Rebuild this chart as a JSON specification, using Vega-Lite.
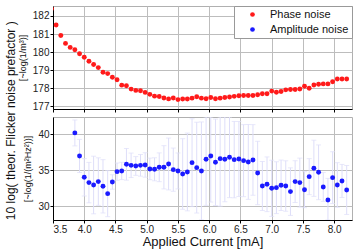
{
  "$schema": "https://vega.github.io/schema/vega-lite/v6.json",
  "padding": {"left": 4, "top": 5, "right": 4, "bottom": 3},
  "title": {"text": "10 log( theor. Flicker noise prefactor )", "orient": "left", "anchor": "middle", "fontSize": 12, "fontWeight": "normal", "font": "Liberation Sans", "color": "#111111", "offset": 0, "dx": 6},
  "datasets": {
    "phase": [
      {"current": 3.475, "value": 182.4, "series": "Phase noise"},
      {"current": 3.55, "value": 181.5, "series": "Phase noise"},
      {"current": 3.625, "value": 180.92, "series": "Phase noise"},
      {"current": 3.7, "value": 180.48, "series": "Phase noise"},
      {"current": 3.775, "value": 180.26, "series": "Phase noise"},
      {"current": 3.85, "value": 180.13, "series": "Phase noise"},
      {"current": 3.925, "value": 179.91, "series": "Phase noise"},
      {"current": 4.0, "value": 179.71, "series": "Phase noise"},
      {"current": 4.075, "value": 179.49, "series": "Phase noise"},
      {"current": 4.15, "value": 179.31, "series": "Phase noise"},
      {"current": 4.225, "value": 179.14, "series": "Phase noise"},
      {"current": 4.3, "value": 178.88, "series": "Phase noise"},
      {"current": 4.375, "value": 178.81, "series": "Phase noise"},
      {"current": 4.45, "value": 178.61, "series": "Phase noise"},
      {"current": 4.525, "value": 178.47, "series": "Phase noise"},
      {"current": 4.6, "value": 178.17, "series": "Phase noise"},
      {"current": 4.675, "value": 178.14, "series": "Phase noise"},
      {"current": 4.75, "value": 177.95, "series": "Phase noise"},
      {"current": 4.825, "value": 177.88, "series": "Phase noise"},
      {"current": 4.9, "value": 177.86, "series": "Phase noise"},
      {"current": 4.975, "value": 177.77, "series": "Phase noise"},
      {"current": 5.05, "value": 177.66, "series": "Phase noise"},
      {"current": 5.125, "value": 177.56, "series": "Phase noise"},
      {"current": 5.2, "value": 177.54, "series": "Phase noise"},
      {"current": 5.275, "value": 177.46, "series": "Phase noise"},
      {"current": 5.35, "value": 177.41, "series": "Phase noise"},
      {"current": 5.425, "value": 177.46, "series": "Phase noise"},
      {"current": 5.5, "value": 177.37, "series": "Phase noise"},
      {"current": 5.575, "value": 177.4, "series": "Phase noise"},
      {"current": 5.65, "value": 177.4, "series": "Phase noise"},
      {"current": 5.725, "value": 177.45, "series": "Phase noise"},
      {"current": 5.8, "value": 177.53, "series": "Phase noise"},
      {"current": 5.875, "value": 177.45, "series": "Phase noise"},
      {"current": 5.95, "value": 177.42, "series": "Phase noise"},
      {"current": 6.025, "value": 177.49, "series": "Phase noise"},
      {"current": 6.1, "value": 177.42, "series": "Phase noise"},
      {"current": 6.175, "value": 177.45, "series": "Phase noise"},
      {"current": 6.25, "value": 177.49, "series": "Phase noise"},
      {"current": 6.325, "value": 177.51, "series": "Phase noise"},
      {"current": 6.4, "value": 177.55, "series": "Phase noise"},
      {"current": 6.475, "value": 177.58, "series": "Phase noise"},
      {"current": 6.55, "value": 177.6, "series": "Phase noise"},
      {"current": 6.625, "value": 177.6, "series": "Phase noise"},
      {"current": 6.7, "value": 177.6, "series": "Phase noise"},
      {"current": 6.775, "value": 177.64, "series": "Phase noise"},
      {"current": 6.85, "value": 177.69, "series": "Phase noise"},
      {"current": 6.925, "value": 177.69, "series": "Phase noise"},
      {"current": 7.0, "value": 177.84, "series": "Phase noise"},
      {"current": 7.075, "value": 177.78, "series": "Phase noise"},
      {"current": 7.15, "value": 177.82, "series": "Phase noise"},
      {"current": 7.225, "value": 177.91, "series": "Phase noise"},
      {"current": 7.3, "value": 177.93, "series": "Phase noise"},
      {"current": 7.375, "value": 177.93, "series": "Phase noise"},
      {"current": 7.45, "value": 177.96, "series": "Phase noise"},
      {"current": 7.525, "value": 178.11, "series": "Phase noise"},
      {"current": 7.6, "value": 178.0, "series": "Phase noise"},
      {"current": 7.675, "value": 178.18, "series": "Phase noise"},
      {"current": 7.75, "value": 178.22, "series": "Phase noise"},
      {"current": 7.825, "value": 178.24, "series": "Phase noise"},
      {"current": 7.9, "value": 178.24, "series": "Phase noise"},
      {"current": 7.975, "value": 178.36, "series": "Phase noise"},
      {"current": 8.05, "value": 178.51, "series": "Phase noise"},
      {"current": 8.125, "value": 178.51, "series": "Phase noise"},
      {"current": 8.2, "value": 178.51, "series": "Phase noise"}
    ],
    "amp": [
      {"current": 3.85, "value": 40.19, "err": 1.8},
      {"current": 3.925, "value": 36.99, "err": 2.3},
      {"current": 4.0, "value": 34.03, "err": 2.6},
      {"current": 4.075, "value": 33.29, "err": 2.8},
      {"current": 4.15, "value": 32.96, "err": 4.0},
      {"current": 4.225, "value": 33.43, "err": 3.3},
      {"current": 4.3, "value": 32.78, "err": 3.7},
      {"current": 4.375, "value": 31.76, "err": 3.2},
      {"current": 4.45, "value": 33.38, "err": 1.0},
      {"current": 4.525, "value": 34.81, "err": 1.2},
      {"current": 4.6, "value": 34.91, "err": 1.2},
      {"current": 4.675, "value": 35.83, "err": 2.2},
      {"current": 4.75, "value": 35.69, "err": 1.7},
      {"current": 4.825, "value": 35.6, "err": 1.3},
      {"current": 4.9, "value": 35.69, "err": 1.5},
      {"current": 4.975, "value": 35.74, "err": 1.7},
      {"current": 5.05, "value": 35.19, "err": 1.5},
      {"current": 5.125, "value": 35.14, "err": 1.6},
      {"current": 5.2, "value": 35.42, "err": 2.0},
      {"current": 5.275, "value": 35.42, "err": 3.0},
      {"current": 5.35, "value": 35.88, "err": 3.6},
      {"current": 5.425, "value": 35.09, "err": 3.0},
      {"current": 5.5, "value": 34.91, "err": 2.5},
      {"current": 5.575, "value": 34.49, "err": 4.9},
      {"current": 5.65, "value": 34.77, "err": 5.4},
      {"current": 5.725, "value": 36.06, "err": 6.1},
      {"current": 5.8, "value": 35.37, "err": 6.3},
      {"current": 5.875, "value": 34.91, "err": 6.8},
      {"current": 5.95, "value": 36.53, "err": 6.4},
      {"current": 6.025, "value": 36.99, "err": 6.4},
      {"current": 6.1, "value": 36.11, "err": 6.0},
      {"current": 6.175, "value": 36.62, "err": 6.6},
      {"current": 6.25, "value": 36.53, "err": 5.9},
      {"current": 6.325, "value": 36.81, "err": 5.6},
      {"current": 6.4, "value": 36.48, "err": 5.3},
      {"current": 6.475, "value": 36.57, "err": 5.2},
      {"current": 6.55, "value": 36.34, "err": 5.0},
      {"current": 6.625, "value": 36.16, "err": 5.2},
      {"current": 6.7, "value": 36.44, "err": 4.9},
      {"current": 6.775, "value": 34.63, "err": 4.4},
      {"current": 6.85, "value": 32.82, "err": 3.4},
      {"current": 6.925, "value": 33.06, "err": 3.8},
      {"current": 7.0, "value": 32.5, "err": 3.9},
      {"current": 7.075, "value": 32.59, "err": 3.6},
      {"current": 7.15, "value": 32.92, "err": 3.5},
      {"current": 7.225, "value": 32.82, "err": 3.5},
      {"current": 7.3, "value": 32.04, "err": 3.3},
      {"current": 7.375, "value": 33.43, "err": 2.9},
      {"current": 7.45, "value": 33.29, "err": 3.4},
      {"current": 7.525, "value": 32.31, "err": 2.5},
      {"current": 7.6, "value": 34.12, "err": 2.5},
      {"current": 7.675, "value": 35.28, "err": 3.9},
      {"current": 7.75, "value": 34.72, "err": 3.8},
      {"current": 7.825, "value": 32.69, "err": 2.0},
      {"current": 7.9, "value": 30.88, "err": 3.0},
      {"current": 7.975, "value": 33.98, "err": 3.6},
      {"current": 8.05, "value": 32.96, "err": 3.1},
      {"current": 8.125, "value": 33.52, "err": 2.3},
      {"current": 8.2, "value": 32.27, "err": 3.4}
    ]
  },
  "spacing": 3,
  "resolve": {"scale": {"color": "independent"}},
  "vconcat": [
    {
      "width": 299,
      "height": 103,
      "data": {"name": "phase"},
      "mark": {"type": "circle", "size": 24, "opacity": 1, "clip": true},
      "encoding": {
        "x": {"field": "current", "type": "quantitative",
              "scale": {"domain": [3.5, 8.285], "nice": false, "zero": false},
              "axis": {"values": [3.5, 4, 4.5, 5, 5.5, 6, 6.5, 7, 7.5, 8], "labels": false, "title": null, "grid": true}},
        "y": {"field": "value", "type": "quantitative",
              "scale": {"domain": [176.85, 182.55], "nice": false, "zero": false},
              "axis": {"values": [177, 178, 179, 180, 181, 182], "title": "[~log(1/m³)]", "grid": true, "labelOverlap": false}},
        "color": {"field": "series", "type": "nominal",
                  "scale": {"domain": ["Phase noise", "Amplitude noise"], "range": ["#ff1a1a", "#1a1aff"]},
                  "legend": {"title": null, "orient": "top-right", "offset": 0, "padding": 3, "strokeColor": "#999999", "fillColor": "white", "symbolType": "circle", "symbolSize": 22, "labelFontSize": 11, "labelFont": "Liberation Sans", "labelColor": "#111111", "rowPadding": 3, "symbolOffset": 10, "labelOffset": 12}}
      }
    },
    {
      "width": 299,
      "height": 103,
      "data": {"name": "amp"},
      "encoding": {
        "x": {"field": "current", "type": "quantitative",
              "scale": {"domain": [3.5, 8.285], "nice": false, "zero": false},
              "axis": {"values": [3.5, 4, 4.5, 5, 5.5, 6, 6.5, 7, 7.5, 8], "format": ".1f", "title": "Applied Current [mA]", "grid": true, "labelOverlap": false}},
        "y": {"field": "value", "type": "quantitative",
              "scale": {"domain": [28.1, 42.4], "nice": false, "zero": false, "clamp": true},
              "axis": {"values": [30, 35, 40], "title": "[~log(1/(m²Hz²))]", "grid": true, "labelOverlap": false}}
      },
      "layer": [
        {
          "mark": {"type": "errorbar", "ticks": true, "color": "#dedef9", "clip": true, "thickness": 1},
          "encoding": {
            "yError": {"field": "err"}
          }
        },
        {
          "mark": {"type": "circle", "size": 24, "opacity": 1, "color": "#1a1aff", "clip": true}
        }
      ]
    }
  ],
  "config": {
    "font": "Liberation Sans",
    "view": {"stroke": "#b0b0b0"},
    "axis": {
      "domainColor": "#000000", "tickColor": "#000000", "tickSize": 3,
      "gridColor": "#bdbdbd", "gridWidth": 1,
      "labelFontSize": 10, "labelColor": "#222222", "labelFont": "Liberation Sans",
      "titleFont": "Liberation Sans", "titleFontWeight": "normal", "titleColor": "#111111"
    },
    "axisY": {"titleFontSize": 9, "titlePadding": 5, "labelPadding": 1, "labelOverlap": false},
    "axisX": {"titleFontSize": 13, "titlePadding": 1, "labelPadding": 1, "labelOverlap": false}
  }
}
